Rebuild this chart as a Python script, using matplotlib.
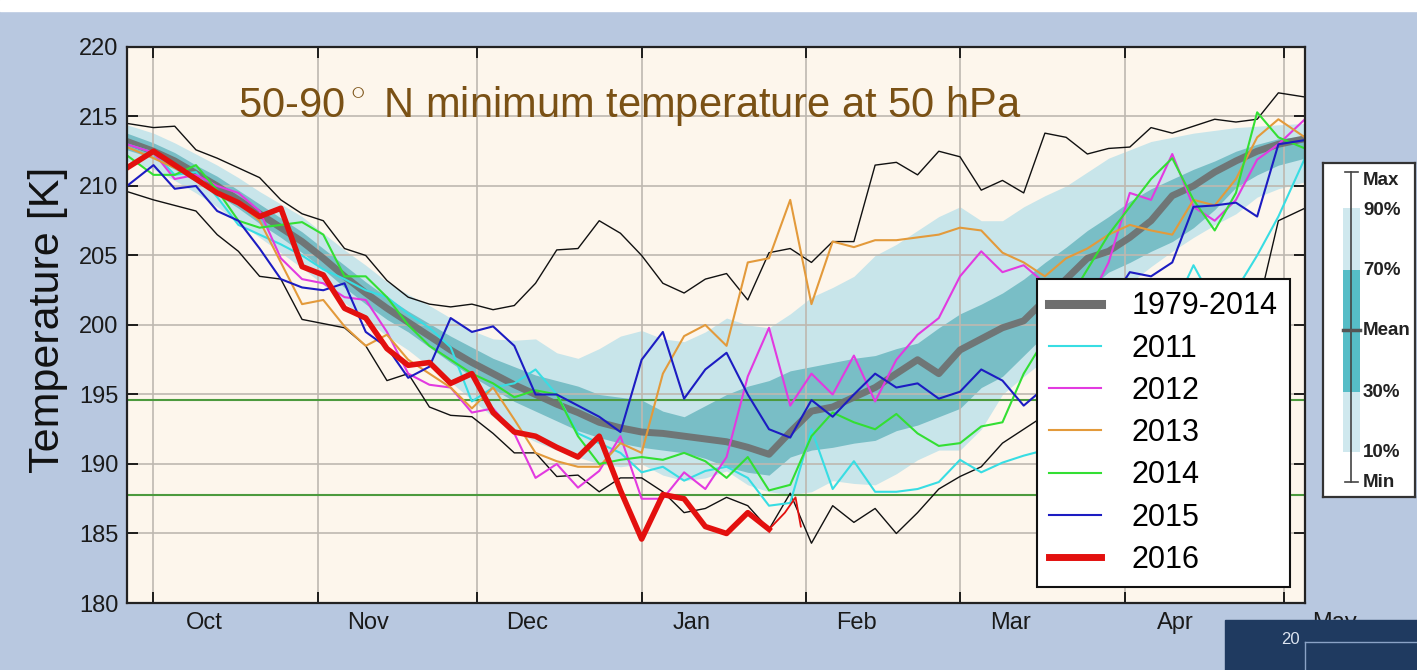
import numpy as np
import matplotlib.pyplot as plt
import matplotlib.transforms as mtransforms
from matplotlib.lines import Line2D
from matplotlib.patches import Rectangle

plt.rcParams['font.family'] = ['Liberation Sans', 'DejaVu Sans']
plt.rcParams['mathtext.fontset'] = 'custom'
plt.rcParams['mathtext.rm'] = 'Liberation Sans'

# sample days, counted from 1 October
days = np.r_[-5, np.arange(0, 213, 4), 217]

month_starts = [0, 31, 61, 92, 123, 152, 183, 213]
month_names = ['Oct', 'Nov', 'Dec', 'Jan', 'Feb', 'Mar', 'Apr', 'May']

# 1979-2014 climatology
clim_mean = [
    213.2, 212.5, 211.8, 210.9, 210.0, 209.0, 208.0, 207.0, 206.0, 204.8,
    203.5, 202.3, 201.2, 200.2, 199.2, 198.2, 197.3, 196.5, 195.7, 195.0,
    194.3, 193.7, 193.0, 192.6, 192.3, 192.2, 192.0, 191.8, 191.6, 191.2,
    190.7, 192.3, 193.8, 194.1, 194.8, 195.5, 196.5, 197.5, 196.5, 198.2,
    199.0, 199.8, 200.3, 201.8, 203.3, 204.8, 205.3, 206.3, 207.5, 209.3,
    210.0, 211.0, 211.8, 212.5, 213.0, 213.4]
clim_p90 = [
    214.4, 213.8, 213.1, 212.3, 211.5, 210.6, 209.6, 208.7, 207.8, 206.6,
    205.4, 204.3, 203.1, 202.2, 201.4, 200.5, 199.6, 199.0, 198.9, 199.0,
    198.0, 197.6, 198.3, 199.2, 199.6, 199.0, 198.8, 199.5, 200.5, 200.0,
    199.8, 200.8, 202.0, 202.7, 203.5, 205.0, 205.8, 206.8, 207.8, 208.5,
    207.5, 207.5, 208.5, 209.3, 210.0, 211.0, 212.0, 212.6, 213.2, 213.5,
    213.8, 214.0, 214.2, 214.3, 214.4, 214.5]
clim_p70 = [
    213.8, 213.1, 212.4, 211.5, 210.7, 209.7, 208.7, 207.7, 206.7, 205.5,
    204.3, 203.1, 202.0, 201.0, 200.1, 199.2, 198.4, 197.6, 197.0, 196.4,
    196.0, 195.6, 195.0, 194.8, 194.6, 193.8, 193.4, 194.2, 195.0, 195.6,
    196.0, 196.7, 197.0, 197.3, 197.6, 197.8, 198.3, 198.7, 199.8, 200.8,
    201.5, 202.3, 203.3, 204.5, 205.6, 206.8, 207.8, 208.9, 209.8, 210.5,
    211.2, 211.8, 212.5, 213.0, 213.4, 213.6]
clim_p30 = [
    212.6, 212.0, 211.2, 210.3, 209.4, 208.4, 207.3, 206.3, 205.2, 204.0,
    202.7, 201.5, 200.4, 199.5, 198.4, 197.3, 196.3, 195.4, 194.5, 193.8,
    193.1, 192.4, 191.9, 191.5, 191.2, 191.0, 190.8, 190.4, 189.8, 189.4,
    189.2, 190.5, 191.0, 191.2, 191.5, 191.7, 192.4, 192.8, 193.4, 194.0,
    195.5, 196.3, 197.8, 199.3, 200.8, 202.5, 203.8, 204.5, 205.3, 206.0,
    207.0, 208.3, 209.9, 210.8, 211.5, 212.0]
clim_p10 = [
    211.8, 211.2, 210.4, 209.5, 208.5, 207.4, 206.3, 205.2, 204.1, 202.9,
    201.6, 200.4, 199.2, 198.2, 197.0, 195.9, 194.6, 193.4, 192.4, 191.6,
    191.0, 190.5, 190.0, 189.8, 190.0, 189.2, 188.8, 189.0, 189.5, 188.5,
    188.0, 187.8, 188.0, 188.8, 188.6, 188.5, 189.3, 190.3, 191.0, 191.0,
    192.5, 195.0, 196.3, 197.5, 199.0, 200.5, 201.8, 203.0, 204.2, 205.3,
    206.3, 207.2, 208.0, 209.2, 209.8, 210.3]
clim_max = [
    214.5, 214.2, 214.3, 212.6, 212.0, 211.3, 210.6, 209.0, 208.0, 207.5,
    205.5, 205.0, 203.2, 202.0, 201.5, 201.3, 201.5, 201.1, 201.4, 203.0,
    205.4, 205.5, 207.5, 206.6, 205.0, 203.0, 202.3, 203.3, 203.7, 201.8,
    205.2, 205.5, 204.5, 206.0, 206.0, 211.5, 211.7, 210.8, 212.5, 212.1,
    209.7, 210.4, 209.5, 213.8, 213.5, 212.3, 212.7, 212.8, 214.2, 213.8,
    214.3, 214.8, 214.6, 214.8, 216.7, 216.4]
clim_min = [
    209.6, 209.0, 208.6, 208.2, 206.5, 205.3, 203.5, 203.3, 200.4, 200.1,
    199.8, 198.5, 196.0, 196.5, 194.1, 193.5, 193.4, 192.2, 190.8, 190.8,
    189.1, 189.2, 188.0, 189.0, 189.0, 188.0, 186.5, 186.8, 187.6, 187.0,
    185.3, 187.9, 184.3, 187.0, 185.8, 186.8, 185.0, 186.5, 188.2, 189.1,
    189.8, 191.5, 192.5, 193.5, 195.0, 196.5, 198.0, 199.5, 201.0, 202.5,
    202.8, 202.0, 202.5, 201.0, 207.5, 208.4]

# single winters
t2011 = [
    213.0, 212.4, 210.8, 211.0, 209.2, 207.2, 206.5, 205.8, 205.0, 204.0,
    203.3, 202.5, 202.0, 200.8, 199.8, 198.4, 194.5, 195.5, 195.8, 196.8,
    195.0, 192.2, 191.5, 190.8, 189.4, 189.8, 188.8, 189.5, 189.8, 189.0,
    187.0, 187.2, 192.5, 188.2, 190.2, 188.0, 188.0, 188.2, 188.7, 190.3,
    189.4, 190.1, 190.6, 191.0, 192.0, 193.0, 195.0, 197.0, 199.0, 201.0,
    204.3, 201.5, 202.5, 205.0, 207.8, 212.0]
t2012 = [
    213.0, 212.4, 210.5, 210.8, 210.0, 209.5, 208.2, 204.8, 203.3, 203.0,
    202.0, 201.8, 199.5, 196.5, 195.7, 195.5, 193.7, 194.0, 192.2, 189.0,
    190.0, 188.3, 189.5, 192.0, 187.5, 187.5, 189.4, 188.2, 190.5, 196.3,
    199.8, 194.2, 196.5, 195.0, 197.8, 194.5, 197.5, 199.3, 200.5, 203.5,
    205.3, 203.8, 204.3, 203.0, 200.5, 201.5, 204.5, 209.5, 209.0, 212.3,
    208.5, 207.5, 209.0, 211.9, 213.0, 214.8]
t2013 = [
    212.8, 212.0, 211.3, 210.5, 209.5, 208.8, 207.5, 204.5, 201.5, 201.8,
    199.9, 198.5, 199.3, 197.5, 196.5, 195.5, 194.0, 195.5, 193.2, 190.8,
    190.2, 189.8, 189.8, 191.5, 190.8, 196.5, 199.2, 200.0, 198.5, 204.5,
    204.8, 209.0, 201.5, 206.0, 205.6, 206.1, 206.1, 206.3, 206.5, 207.0,
    206.8, 205.2, 204.5, 203.5, 204.8, 205.5, 206.5, 207.2, 206.8, 206.5,
    209.0, 208.6, 210.5, 213.5, 214.8, 213.5]
t2014 = [
    212.2, 210.8, 210.8, 211.5, 209.7, 207.5, 207.0, 207.2, 207.4, 206.5,
    203.5, 203.5, 202.0, 200.0, 198.5, 197.5, 196.5, 195.8, 194.8, 195.3,
    195.0, 192.0, 190.0, 190.3, 190.5, 190.3, 190.8, 190.2, 189.0, 190.5,
    188.1, 188.5, 192.0, 193.7, 193.0, 192.5, 193.6, 192.2, 191.3, 191.5,
    192.7, 193.0, 196.5, 199.0, 201.5, 204.0, 206.5, 208.5, 210.5, 212.0,
    209.0, 206.8, 209.5, 215.3, 213.5, 212.7]
t2015 = [
    210.0, 211.5, 209.8, 210.0, 208.2, 207.5, 205.5, 203.3, 202.7, 202.5,
    203.0, 199.5, 198.4, 196.2, 197.0, 200.5, 199.5, 199.9, 198.5, 195.0,
    195.0, 194.2, 193.4, 192.3, 197.5, 199.5, 194.7, 196.8, 198.0, 195.0,
    192.5, 191.9, 194.6, 193.4, 195.0, 196.5, 195.5, 195.8, 194.7, 195.2,
    196.8, 196.0, 194.2, 195.5, 197.5, 199.5, 201.5, 203.8, 203.5, 204.5,
    208.5, 208.6, 208.8, 207.8, 213.0, 213.3]
t2016 = [
    211.3, 212.5, 211.5, 210.5, 209.5, 208.8, 207.8, 208.4, 204.2, 203.6,
    201.2, 200.5, 198.3, 197.1, 197.3, 195.8, 196.5, 193.7, 192.3, 192.0,
    191.2, 190.5, 192.0, 188.1, 184.6, 187.8, 187.5, 185.5, 185.0, 186.5,
    185.3]
# thin continuation of 2016
tail_days = [116, 119, 121, 122]
tail_2016 = [185.3, 186.5, 187.6, 185.5]

# PSC thresholds
t_nat = 194.6
t_ice = 187.8

years = ['2011', '2012', '2013', '2014', '2015']
year_series = [t2011, t2012, t2013, t2014, t2015]
year_colors = ['#38DDE3', '#E23AE0', '#E39A3B', '#33DF33', '#1C1CC2']
red = '#E3100E'
grey = '#6E6E6E'

fig = plt.figure(figsize=(14.17, 6.70), dpi=100, facecolor='#B8C8E0')
ax = fig.add_axes([0.0896, 0.1, 0.8313, 0.8299], facecolor='#FDF6EC')

ax.fill_between(days, clim_p10, clim_p90, color='#C8E5EA', lw=0, zorder=0.3)
ax.fill_between(days, clim_p30, clim_p70, color='#79BEC6', lw=0, zorder=0.4)
ax.grid(True, color='#BEB8B0', lw=1.2)

ax.axhline(t_nat, color='#4C9A3E', lw=1.5, zorder=1.6)
ax.axhline(t_ice, color='#4C9A3E', lw=1.5, zorder=1.6)

ax.plot(days, clim_max, color='#111111', lw=1.0, zorder=2)
ax.plot(days, clim_min, color='#111111', lw=1.0, zorder=2)
ax.plot(days, clim_mean, color=grey, lw=5, alpha=0.9, zorder=2.1,
        solid_capstyle='butt')
for vals, c in zip(year_series, year_colors):
    ax.plot(days, vals, color=c, lw=1.5, zorder=2.2)
ax.plot(tail_days, tail_2016, color=red, lw=1.3, zorder=2.3)
ax.plot(days[:len(t2016)], t2016, color=red, lw=4, zorder=2.4)

ax.set_xlim(-5, 217)
ax.set_ylim(180, 220)
ax.set_yticks(range(180, 221, 5))
ax.set_xticks(month_starts)
ax.set_xticklabels([])
ax.tick_params(direction='in', length=8, width=1.2, top=True, right=True,
               labelsize=17, labelcolor='#1A1A1A', pad=6)
for s in ax.spines.values():
    s.set_color('#222222')
    s.set_linewidth(1.6)

trans = mtransforms.blended_transform_factory(ax.transData, ax.transAxes)
for d, name in zip(month_starts, month_names):
    ax.text(d + 9.5, -0.016, name, transform=trans, ha='center', va='top',
            fontsize=17, color='#1A1A1A', clip_on=False)

ax.set_ylabel('Temperature [K]', fontsize=31, color='#111111')
ax.yaxis.set_label_coords(-0.05, 0.51)

ax.text(0.094, 0.874, '50-90$^\\circ$ N minimum temperature at 50 hPa',
        transform=ax.transAxes, fontsize=30, color='#7A5115', va='baseline')

handles = [Line2D([], [], color=grey, lw=6.5)]
handles += [Line2D([], [], color=c, lw=1.5) for c in year_colors]
handles += [Line2D([], [], color=red, lw=5)]
labels = ['1979-2014'] + years + ['2016']
leg = ax.legend(handles, labels, loc='lower right',
                bbox_to_anchor=(0.9873, 0.0288), borderaxespad=0,
                fontsize=22, handlelength=1.7, handletextpad=1.0,
                labelspacing=0.4, borderpad=0.4, fancybox=False,
                framealpha=1, edgecolor='#111111')
leg.get_frame().set_linewidth(1.5)
leg.set_zorder(5)

# key for the shading
kx = fig.add_axes([0.9337, 0.2582, 0.0649, 0.4985], facecolor='white')
kx.set_xlim(0, 92)
kx.set_ylim(334, 0)
kx.set_xticks([])
kx.set_yticks([])
for s in kx.spines.values():
    s.set_color('#333333')
    s.set_linewidth(1.6)
kx.plot([28, 28], [9, 319], color='#444444', lw=1.2)
kx.plot([22, 35], [9, 9], color='#444444', lw=1.2)
kx.plot([22, 35], [319, 319], color='#444444', lw=1.2)
kx.add_patch(Rectangle((20, 45), 17, 244, color='#CFE8EE', lw=0))
kx.add_patch(Rectangle((20, 107), 17, 122, color='#56BDC7', lw=0))
kx.plot([20, 37], [167, 167], color='#555555', lw=2.5)
key_labels = [('Max', 17), ('90%', 47), ('70%', 107), ('Mean', 167),
              ('30%', 229), ('10%', 289), ('Min', 319)]
for txt, yy in key_labels:
    kx.text(40, yy, txt, fontsize=13.5, fontweight='bold', color='#222222',
            ha='left', va='center')

# slide decorations
fig.add_artist(Rectangle((0, 1 - 11 / 670), 1, 11 / 670, color='white',
                         transform=fig.transFigure, zorder=5))
fig.add_artist(Rectangle((1225 / 1417, 0), 192 / 1417, 50 / 670,
                         color='#1F3A60', transform=fig.transFigure, zorder=5))
fig.add_artist(Line2D([1305 / 1417, 1], [28 / 670, 28 / 670],
                      color='#8AA2C6', lw=1, transform=fig.transFigure,
                      zorder=6))
fig.add_artist(Line2D([1305 / 1417, 1305 / 1417], [0, 28 / 670],
                      color='#8AA2C6', lw=1, transform=fig.transFigure,
                      zorder=6))
fig.text(1290 / 1417, 30 / 670, '20', color='#DCE4F0', fontsize=12,
         ha='center', va='center', zorder=7)

fig.savefig('out.png', dpi=100, facecolor=fig.get_facecolor())
